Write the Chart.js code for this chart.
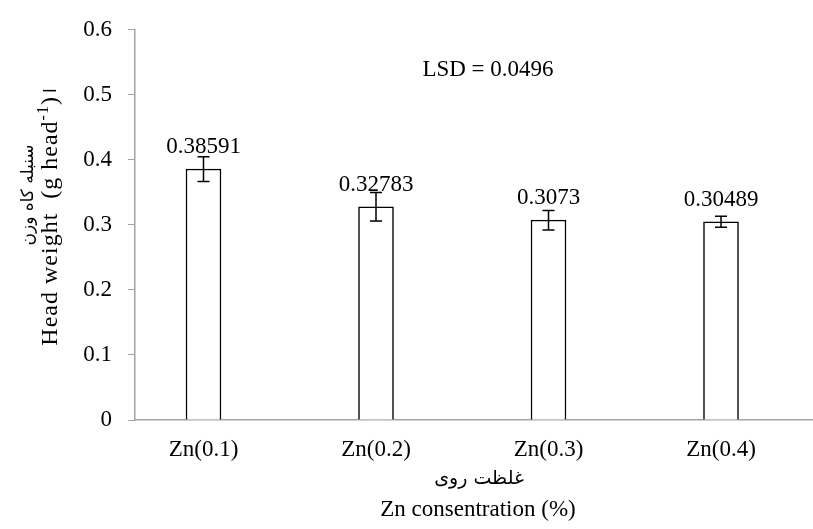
<!DOCTYPE html>
<html>
<head>
<meta charset="utf-8">
<script src="https://cdn.jsdelivr.net/npm/chart.js@4/dist/chart.umd.min.js"></script>
<style>
  html, body { margin: 0; padding: 0; background: #ffffff; }
  #wrap { width: 813px; height: 529px; position: relative; }
</style>
</head>
<body>
<div id="wrap"><canvas id="chart" width="813" height="529"></canvas></div>
<script>
// Head weight per zinc level
const categories = ['Zn(0.1)', 'Zn(0.2)', 'Zn(0.3)', 'Zn(0.4)'];
const headWeight = [0.38591, 0.32783, 0.3073, 0.30489];
const errorMargins = [0.019, 0.022, 0.015, 0.0085];
const yTicks = [0, 0.1, 0.2, 0.3, 0.4, 0.5, 0.6];
const lsdValue = 0.0496;

const yTitleFa = 'سنبله کاه وزن';
const yTitleEn = 'Head weight  (g head';
const xTitleFa = 'غلظت روی';
const xTitleEn = 'Zn consentration (%)';

const SERIF = '"Liberation Serif", "Times New Roman", serif';
const PERSIAN = '17px "DejaVu Sans", sans-serif';
const AXIS_GREY = '#a3a3a3';

// Error bars, value labels and the annotation texts
const annotations = {
  id: 'annotations',
  afterDatasetsDraw(chart) {
    const ctx = chart.ctx;
    const xs = chart.scales.x;
    const ys = chart.scales.y;
    ctx.save();
    ctx.strokeStyle = '#000000';
    ctx.lineWidth = 1.5;
    ctx.fillStyle = '#000000';
    headWeight.forEach((v, i) => {
      const x = xs.getPixelForValue(i);
      const yHi = ys.getPixelForValue(v + errorMargins[i]);
      const yLo = ys.getPixelForValue(v - errorMargins[i]);
      ctx.beginPath();
      ctx.moveTo(x, yHi); ctx.lineTo(x, yLo);
      ctx.moveTo(x - 6, yHi); ctx.lineTo(x + 6, yHi);
      ctx.moveTo(x - 6, yLo); ctx.lineTo(x + 6, yLo);
      ctx.stroke();

      ctx.font = '23px ' + SERIF;
      ctx.textAlign = 'center';
      ctx.textBaseline = 'alphabetic';
      ctx.fillText(String(v), x, ys.getPixelForValue(v) - 16);
    });

    // LSD note
    ctx.font = '23px ' + SERIF;
    ctx.textAlign = 'center';
    ctx.textBaseline = 'alphabetic';
    ctx.fillText('LSD = ' + lsdValue, 488, 76);

    // y-axis titles (rotated)
    ctx.save();
    ctx.translate(29, 195);
    ctx.rotate(-Math.PI / 2);
    ctx.font = PERSIAN;
    ctx.textAlign = 'center';
    ctx.textBaseline = 'middle';
    ctx.fillText(yTitleFa, 0, 0);
    ctx.restore();

    ctx.save();
    ctx.translate(57, 217);
    ctx.rotate(-Math.PI / 2);
    ctx.textBaseline = 'alphabetic';
    ctx.textAlign = 'left';
    ctx.letterSpacing = '1px';
    const mainFont = '24px ' + SERIF;
    const supFont = '16px ' + SERIF;
    ctx.font = mainFont;
    const w1 = ctx.measureText(yTitleEn).width;
    ctx.font = supFont;
    const w2 = ctx.measureText('-1').width;
    ctx.font = mainFont;
    const w3 = ctx.measureText(')').width;
    ctx.font = PERSIAN;
    const w4 = ctx.measureText('ا').width;
    const total = w1 + w2 + w3 + 3 + w4;
    let cx = -total / 2;
    ctx.font = mainFont;
    ctx.fillText(yTitleEn, cx, 0); cx += w1;
    ctx.font = supFont;
    ctx.fillText('-1', cx, -9); cx += w2;
    ctx.font = mainFont;
    ctx.fillText(')', cx, 0); cx += w3 + 3;
    ctx.font = PERSIAN;
    ctx.fillText('ا', cx, -1);
    ctx.restore();

    // x-axis titles
    ctx.textAlign = 'center';
    ctx.textBaseline = 'middle';
    ctx.font = '19px "DejaVu Sans", sans-serif';
    ctx.fillText(xTitleFa, 479, 479);
    ctx.font = '23px ' + SERIF;
    ctx.fillText(xTitleEn, 478, 510);
    ctx.restore();
  }
};

new Chart(document.getElementById('chart'), {
  type: 'bar',
  data: {
    datasets: [{
      data: categories.map((c, i) => ({ x: i, y: headWeight[i] })),
      backgroundColor: '#ffffff',
      borderColor: '#000000',
      borderWidth: 1.5,
      barThickness: 35
    }]
  },
  options: {
    responsive: false,
    animation: false,
    devicePixelRatio: 1,
    layout: { padding: { top: 24, left: 0, right: 0, bottom: 0 } },
    plugins: { legend: { display: false }, tooltip: { enabled: false } },
    scales: {
      x: {
        type: 'linear',
        offset: false,
        min: -0.3971,
        max: 3.5333,
        afterBuildTicks(scale) { scale.ticks = categories.map((c, i) => ({ value: i })); },
        afterFit(scale) { scale.height = 109; },
        grid: { drawOnChartArea: false, drawTicks: false, offset: false },
        border: { color: AXIS_GREY, width: 1.5 },
        ticks: {
          padding: 16,
          color: '#000000',
          font: { family: SERIF, size: 23 },
          maxRotation: 0,
          callback: (v) => categories[v]
        }
      },
      y: {
        min: 0,
        max: 0.6,
        afterBuildTicks(scale) { scale.ticks = yTicks.map(v => ({ value: v })); },
        afterFit(scale) { scale.width = 135; },
        grid: { drawOnChartArea: false, drawTicks: true, tickLength: 7, color: AXIS_GREY, tickWidth: 1 },
        border: { color: AXIS_GREY, width: 1.5 },
        ticks: {
          padding: 16,
          color: '#000000',
          font: { family: SERIF, size: 23 },
          callback: (v) => String(Math.round(v * 10) / 10)
        }
      }
    }
  },
  plugins: [annotations]
});
</script>
</body>
</html>
